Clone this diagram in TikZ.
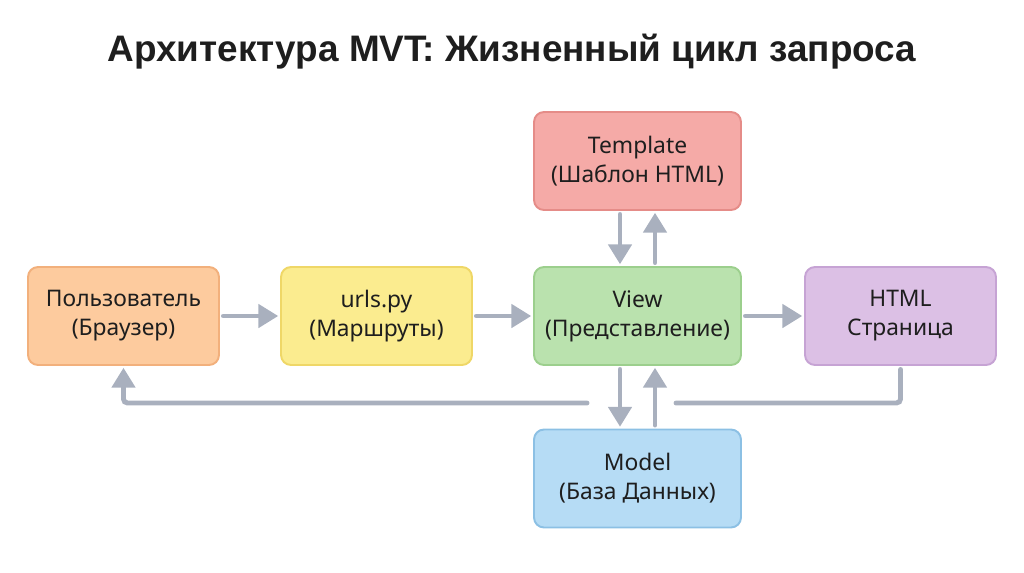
\documentclass[tikz,border=0pt]{standalone}
\usepackage{fontspec}
\setmainfont{Noto Sans}
\newfontfamily\titlefont{Liberation Sans}
\usetikzlibrary{arrows.meta, positioning}

\definecolor{usrfill}{HTML}{FDCB9E}
\definecolor{usrdraw}{HTML}{F2B07C}
\definecolor{urlfill}{HTML}{FBEC8F}
\definecolor{urldraw}{HTML}{EFD767}
\definecolor{viewfill}{HTML}{BAE2AE}
\definecolor{viewdraw}{HTML}{9CCF8D}
\definecolor{htmlfill}{HTML}{DCC0E5}
\definecolor{htmldraw}{HTML}{C6A3D4}
\definecolor{tplfill}{HTML}{F5AAA7}
\definecolor{tpldraw}{HTML}{E58C88}
\definecolor{modfill}{HTML}{B6DCF5}
\definecolor{moddraw}{HTML}{8CC0E4}
\definecolor{arrowgray}{HTML}{A9B0BE}
\definecolor{txt}{HTML}{1E1E1E}

\begin{document}
\begin{tikzpicture}[
    x=0.02cm, y=-0.02cm,
    box/.style = {rectangle, line width=1.1pt, minimum width=3.82cm, minimum height=1.96cm, rounded corners=0.2cm, align=center, text=txt, font=\fontsize{13}{16.5}\selectfont},
    user/.style = {box, draw=usrdraw, fill=usrfill},
    urls/.style = {box, draw=urldraw, fill=urlfill},
    view/.style = {box, draw=viewdraw, fill=viewfill, minimum width=4.14cm},
    page/.style = {box, draw=htmldraw, fill=htmlfill},
    tpl/.style = {box, draw=tpldraw, fill=tplfill, minimum width=4.14cm},
    dbmodel/.style = {box, draw=moddraw, fill=modfill, minimum width=4.14cm},
    line/.style = {draw=arrowgray, line width=2.8pt, line cap=round, rounded corners=0.08cm},
    flow/.style = {line, -{Triangle[length=0.4cm, width=0.46cm]}, shorten >=1pt, shorten <=2pt}
]
    \useasboundingbox (0,0) rectangle (1024,572);

    % Title
    \node [font=\titlefont\fontsize{21}{25}\selectfont\bfseries, text=txt] (title) at (512,52) {Архитектура MVT: Жизненный цикл запроса};

    % Middle Row
    \node [user] (user) at (123.5,316) {Пользователь\\(Браузер)};
    \node [urls] (urls) at (376.5,316) {urls.py\\(Маршруты)};
    \node [view] (view) at (637.5,316) {View\\(Представление)};
    \node [page] (page) at (900.5,316) {HTML\\Страница};

    % Top / Bottom
    \node [tpl] (tpl) at (637.5,161) {Template\\(Шаблон HTML)};
    \node [dbmodel] (db) at (637.5,478.5) {Model\\(База Данных)};

    % Arrows - Row
    \draw [flow] (user) -- (urls);
    \draw [flow] (urls) -- (view);
    \draw [flow] (view) -- (page);

    % Arrows - Template
    \draw [flow] ([xshift=-0.35cm]tpl.south) -- ([xshift=-0.35cm]view.north);
    \draw [flow] ([xshift=0.35cm]view.north) -- ([xshift=0.35cm]tpl.south);

    % Arrows - Model
    \draw [flow] ([xshift=-0.35cm]view.south) -- ([xshift=-0.35cm]db.north);
    \draw [flow] ([xshift=0.35cm]db.north) -- ([xshift=0.35cm]view.south);

    % Return path
    \coordinate (gapR) at (676,403);
    \coordinate (gapL) at (587,403);
    \draw [line, shorten <=2pt] (page.south) |- (gapR);
    \draw [flow, shorten <=0pt] (gapL) -| (user.south);
\end{tikzpicture}
\end{document}
